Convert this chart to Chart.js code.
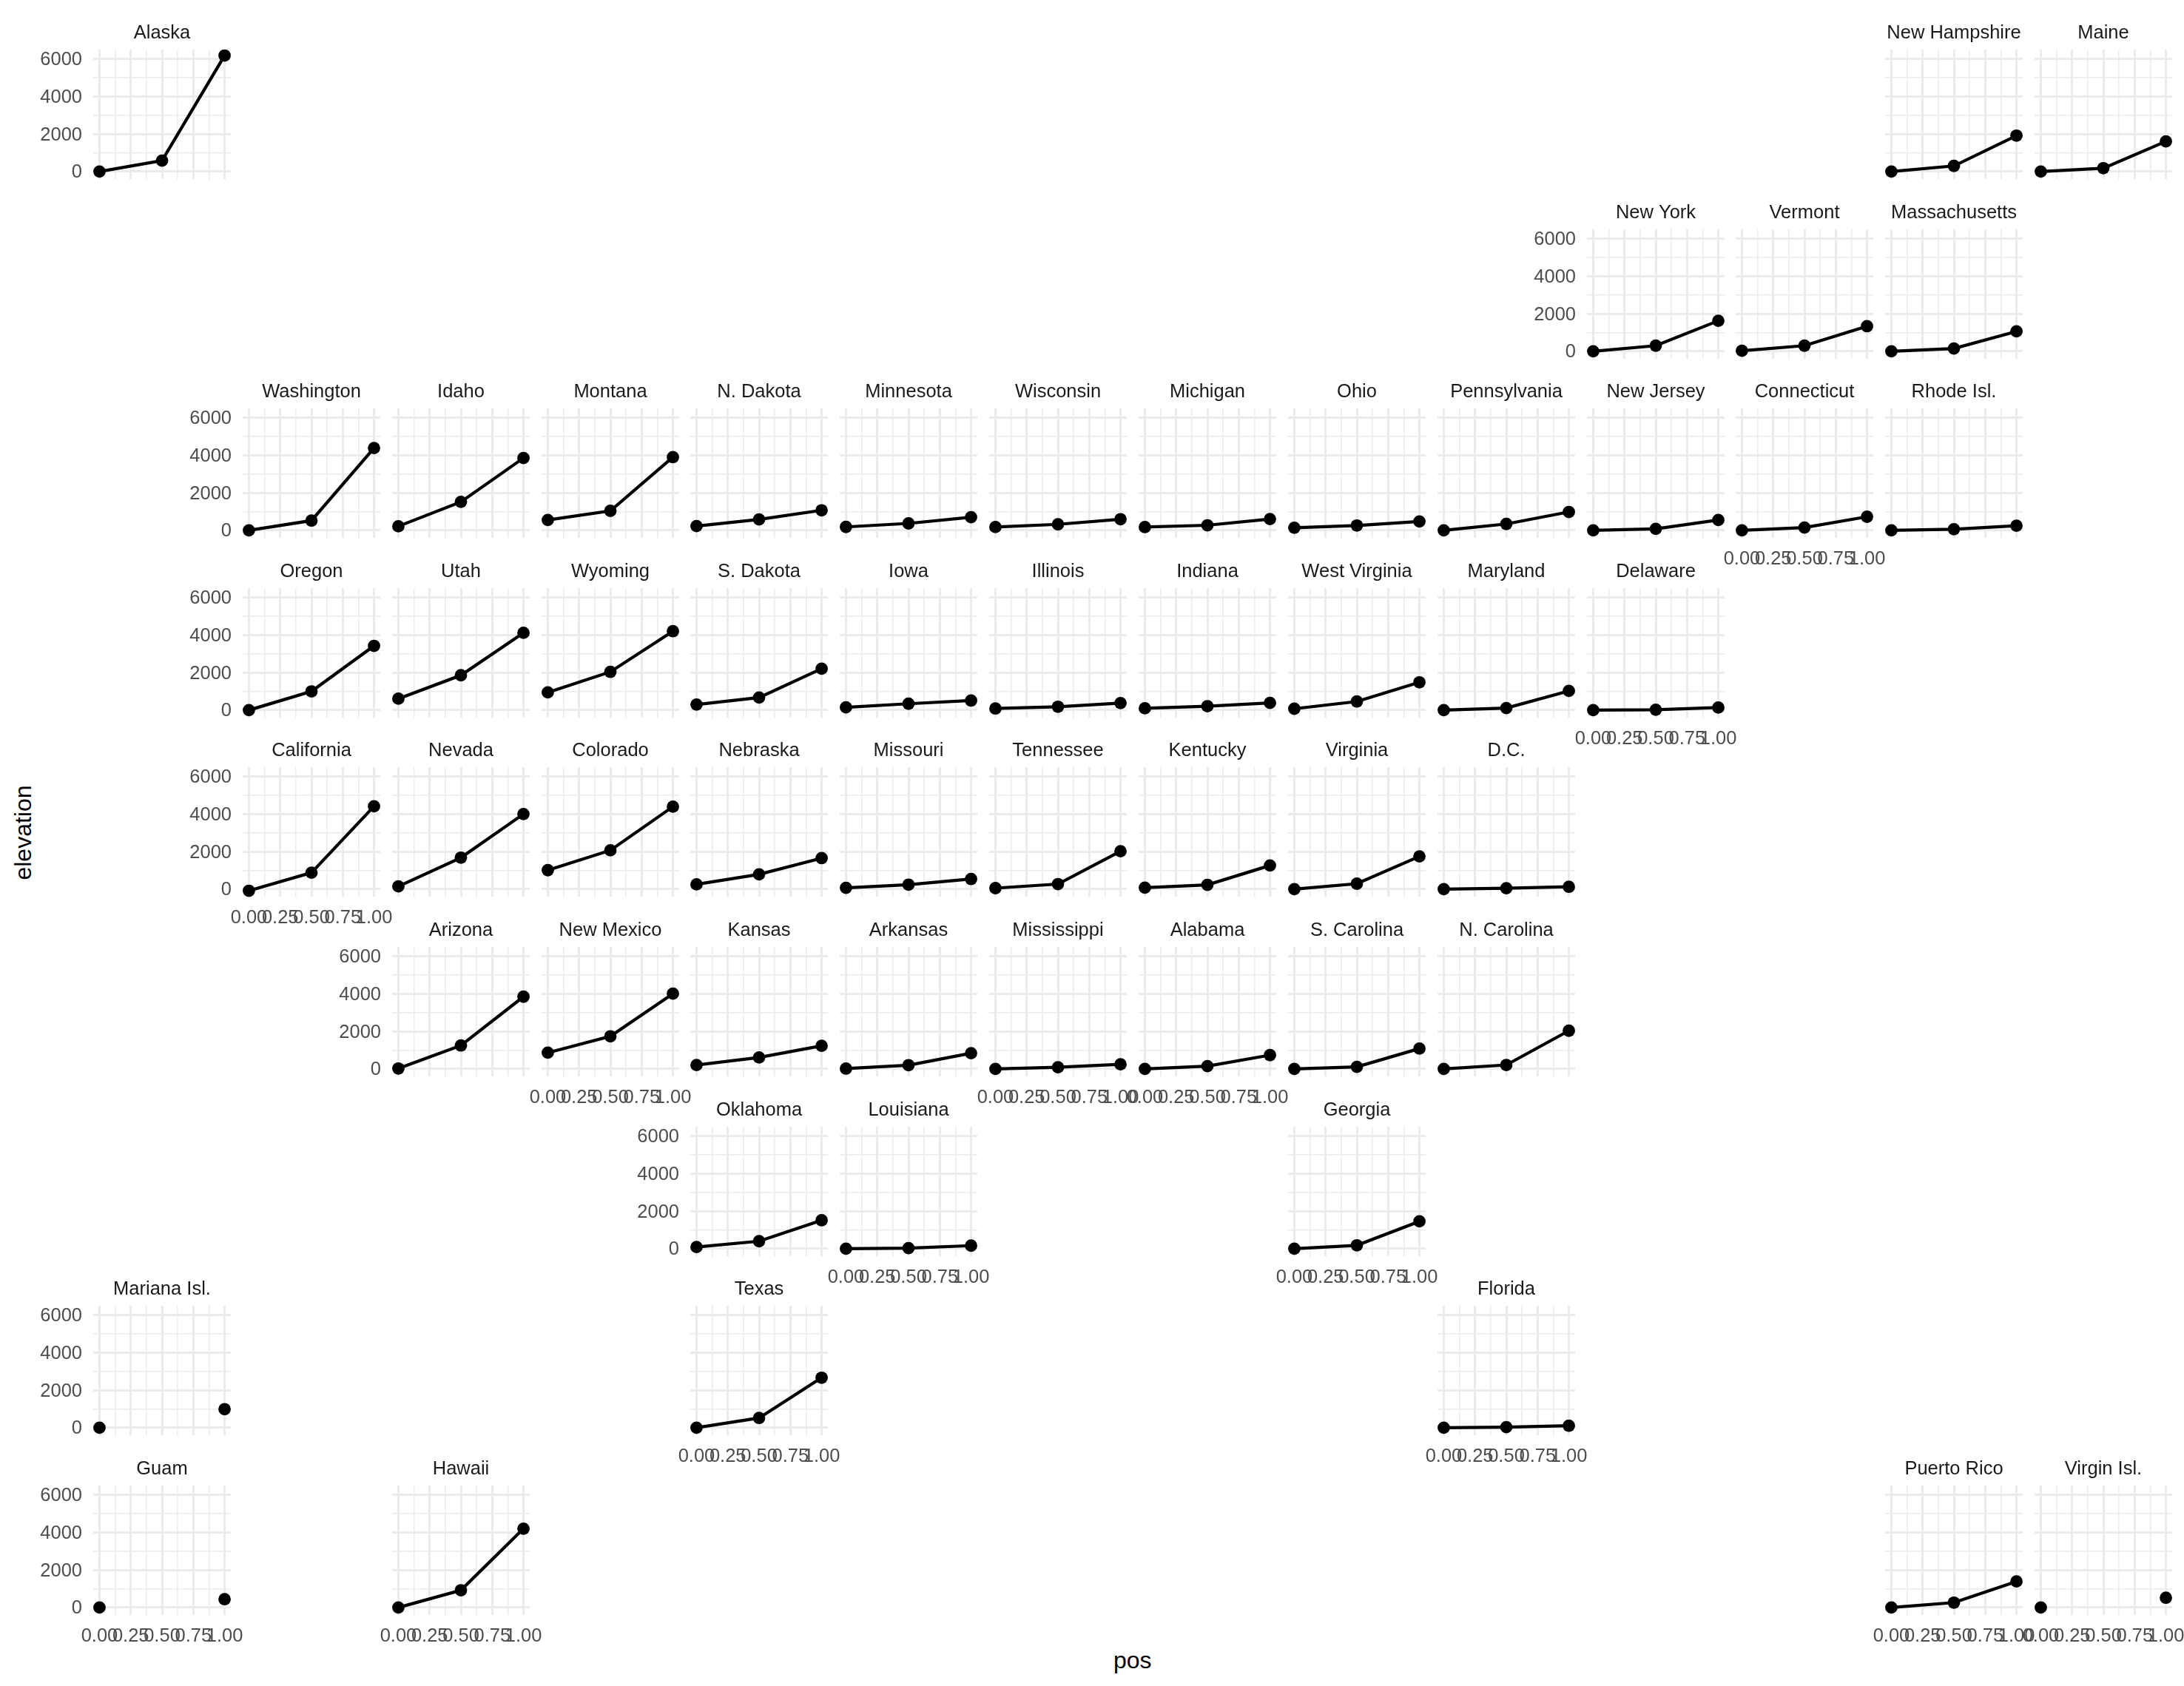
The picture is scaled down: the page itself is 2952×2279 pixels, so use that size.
<!DOCTYPE html>
<html>
<head>
<meta charset="utf-8">
<title>elevation by state</title>
<script src="https://cdn.jsdelivr.net/npm/chart.js@4/dist/chart.umd.js"></script>
<style>
  html, body { margin: 0; padding: 0; background: #fff; overflow: hidden; width: 2952px; height: 2279px; }
  canvas { position: absolute; }
  .axis-title { position: absolute; font-family: "Liberation Sans", Arial, sans-serif; font-size: 32px; color: #000; white-space: nowrap; }
</style>
</head>
<body>
<div class="axis-title" id="xTitle">pos</div>
<div class="axis-title" id="yTitle">elevation</div>
<script>
const states = ['Alaska','New Hampshire','Maine','New York','Vermont','Massachusetts','Washington','Idaho','Montana','N. Dakota','Minnesota','Wisconsin','Michigan','Ohio','Pennsylvania','New Jersey','Connecticut','Rhode Isl.','Oregon','Utah','Wyoming','S. Dakota','Iowa','Illinois','Indiana','West Virginia','Maryland','Delaware','California','Nevada','Colorado','Nebraska','Missouri','Tennessee','Kentucky','Virginia','D.C.','Arizona','New Mexico','Kansas','Arkansas','Mississippi','Alabama','S. Carolina','N. Carolina','Oklahoma','Louisiana','Georgia','Mariana Isl.','Texas','Florida','Guam','Hawaii','Puerto Rico','Virgin Isl.'];
const lowElevation = [0,0,0,0,29,0,0,216,553,229,183,177,174,139,0,0,0,0,0,610,945,297,146,85,98,73,0,0,-86,147,1011,256,70,54,78,0,0,22,866,207,17,0,0,0,0,88,-2,0,0,0,0,0,0,0,0];
const meanElevation = [580,300,180,300,300,150,520,1520,1040,580,370,320,270,260,340,80,150,60,1000,1860,2040,670,340,180,210,460,110,20,880,1680,2070,790,240,270,230,290,50,1250,1740,610,200,90,150,110,210,400,30,180,null,520,30,null,920,260,null];
const highElevation = [6190,1917,1606,1629,1339,1064,4392,3859,3904,1069,701,595,603,472,980,550,725,247,3428,4123,4210,2208,510,377,383,1483,1024,136,4421,4007,4401,1655,540,2025,1263,1747,125,3853,4014,1232,840,246,734,1085,2037,1516,163,1458,990,2667,105,440,4205,1390,520];
const xPos = [0, 0.5, 1];
const xTicks = [0, 0.125, 0.25, 0.375, 0.5, 0.625, 0.75, 0.875, 1];
const xTickLabels = ['0.00', '', '0.25', '', '0.50', '', '0.75', '', '1.00'];
const yTicks = [0, 1000, 2000, 3000, 4000, 5000, 6000];
const yTickLabels = ['0', '', '2000', '', '4000', '', '6000'];

// grid slot of every panel, same order as states
const panelCols = [0,12,13,10,11,12,1,2,3,4,5,6,7,8,9,10,11,12,1,2,3,4,5,6,7,8,9,10,1,2,3,4,5,6,7,8,9,2,3,4,5,6,7,8,9,4,5,8,0,4,9,0,2,12,13];
const panelRows = [0,0,0,1,1,1,2,2,2,2,2,2,2,2,2,2,2,2,3,3,3,3,3,3,3,3,3,3,4,4,4,4,4,4,4,4,4,5,5,5,5,5,5,5,5,6,6,6,7,7,7,8,8,8,8];
const withXLabels = ['Connecticut','Delaware','California','New Mexico','Mississippi','Alabama','Louisiana','Georgia','Texas','Florida','Guam','Hawaii','Puerto Rico','Virgin Isl.'];
const withYLabels = ['Alaska','New York','Washington','Oregon','California','Arizona','Oklahoma','Mariana Isl.','Guam'];

const FONT = '"Liberation Sans", Arial, sans-serif';
const GRID = '#ebebeb';
const PANEL_W = 186, PANEL_H = 175;
const PAD_X = 90, PAD_TOP = 42, PAD_BOTTOM = 50;

states.forEach((name, i) => {
  const left = Math.round(126 + panelCols[i] * 201.85);
  const top = Math.round(67 + panelRows[i] * 242.6);
  const canvas = document.createElement('canvas');
  canvas.width = PANEL_W + PAD_X * 2;
  canvas.height = PAD_TOP + PANEL_H + PAD_BOTTOM;
  canvas.style.left = (left - PAD_X) + 'px';
  canvas.style.top = (top - PAD_TOP) + 'px';
  document.body.appendChild(canvas);

  const values = [lowElevation[i], meanElevation[i], highElevation[i]];
  new Chart(canvas, {
    type: 'line',
    data: {
      datasets: [{
        data: xPos.map((x, k) => ({ x: x, y: values[k] })),
        borderColor: '#000',
        backgroundColor: '#000',
        borderWidth: 4.2,
        pointRadius: 8.4,
        pointBorderWidth: 0,
        tension: 0,
        clip: false
      }]
    },
    options: {
      responsive: false,
      animation: false,
      layout: { autoPadding: false, padding: { left: 0, right: PAD_X, top: 0, bottom: 0 } },
      plugins: {
        legend: { display: false },
        tooltip: { enabled: false },
        title: {
          display: true,
          fullSize: false, // centre over the panel, not the canvas
          text: name,
          color: '#1a1a1a',
          font: { family: FONT, size: 25.5, weight: 'normal', lineHeight: 1.2 },
          padding: { top: 5, bottom: PAD_TOP - 35.6 }
        }
      },
      scales: {
        x: {
          type: 'linear',
          min: -0.05,
          max: 1.05,
          // labels are clipped to the scale box, so it keeps the full margin
          afterFit: s => { s.height = PAD_BOTTOM; },
          afterBuildTicks: s => { s.ticks = xTicks.map(v => ({ value: v })); },
          border: { display: false },
          grid: { color: GRID, drawTicks: false, lineWidth: c => c.index % 2 ? 1.5 : 3 },
          ticks: {
            display: withXLabels.includes(name),
            autoSkip: false,
            maxRotation: 0,
            minRotation: 0,
            padding: 14,
            color: '#4d4d4d',
            font: { family: FONT, size: 25.5 },
            callback: (v, k) => xTickLabels[k]
          }
        },
        y: {
          min: -400,
          max: 6508,
          afterFit: s => { s.width = PAD_X; },
          afterBuildTicks: s => { s.ticks = yTicks.map(v => ({ value: v })); },
          border: { display: false },
          grid: { color: GRID, drawTicks: false, lineWidth: c => c.index % 2 ? 1.5 : 3 },
          ticks: {
            display: withYLabels.includes(name),
            autoSkip: false,
            padding: 15,
            labelOffset: 1.5,
            color: '#4d4d4d',
            font: { family: FONT, size: 25.5 },
            callback: (v, k) => yTickLabels[k]
          }
        }
      }
    }
  });
});

// shared axis titles of the whole figure
const xTitle = document.getElementById('xTitle');
xTitle.style.left = (1531 - xTitle.offsetWidth / 2) + 'px';
xTitle.style.top = (2244 - xTitle.offsetHeight / 2) + 'px';
const yTitle = document.getElementById('yTitle');
yTitle.style.left = (31 - yTitle.offsetWidth / 2) + 'px';
yTitle.style.top = (1125.5 - yTitle.offsetHeight / 2) + 'px';
yTitle.style.transform = 'rotate(-90deg)';
</script>
</body>
</html>
